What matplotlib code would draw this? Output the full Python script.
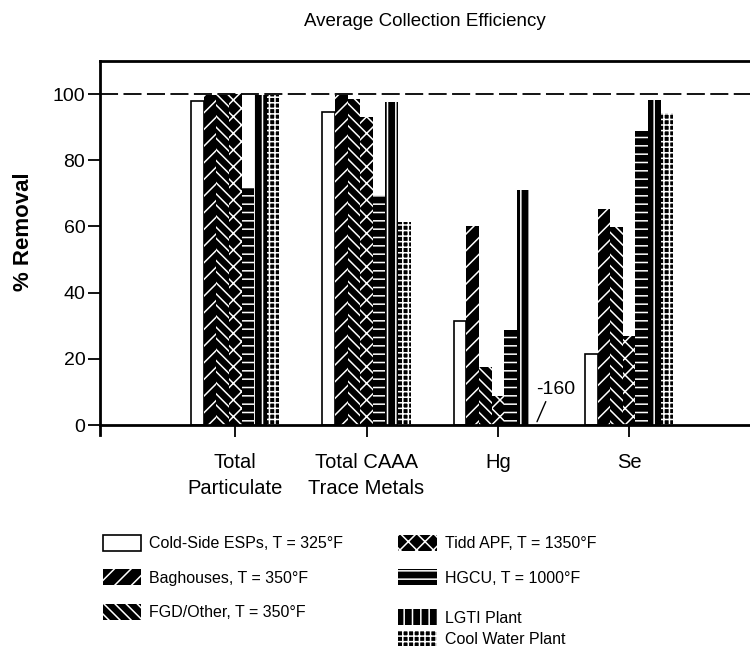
import matplotlib
matplotlib.use("Agg")
import matplotlib.pyplot as plt
import numpy as np

# === DATA ===
categories = ["Total\nParticulate", "Total CAAA\nTrace Metals", "Hg", "Se"]
series_names = [
    "Cold-Side ESPs, T = 325°F",
    "Baghouses, T = 350°F",
    "FGD/Other, T = 350°F",
    "Tidd APF, T = 1350°F",
    "HGCU, T = 1000°F",
    "LGTI Plant",
    "Cool Water Plant",
]
cold_side_esp = [98.0, 94.5, 31.5, 21.5]
baghouses = [99.8, 99.7, 60.0, 65.3]
fgd_other = [99.8, 98.5, 17.5, 59.7]
tidd_apf = [99.9, 93.0, 8.8, 27.0]
hgcu = [72.0, 69.6, 28.6, 89.0]
lgti_plant = [99.8, 97.5, 71.0, 98.3]
cool_water = [99.6, 61.4, -160.0, 94.3]
y_ticks = [0, 20, 40, 60, 80, 100]

all_series = [cold_side_esp, baghouses, fgd_other, tidd_apf, hgcu, lgti_plant, cool_water]
hatches = [None, "//", "\\\\\\", "xx", "--", "||", "+++"]

plt.rcParams["font.family"] = ["Liberation Sans", "DejaVu Sans"]
plt.rcParams["hatch.color"] = "white"
plt.rcParams["hatch.linewidth"] = 1.1

fig = plt.figure(figsize=(7.5, 6.61), dpi=100)
ax = fig.add_axes([0.1333, 0.342, 0.8667, 0.5657])

x = np.arange(len(categories))
width = 0.096

bars = []
for i, (vals, hatch) in enumerate(zip(all_series, hatches)):
    heights = np.maximum(np.array(vals), 0)
    pos = x + (i - 3) * width
    if hatch is None:
        b = ax.bar(pos, heights, width, color="white", edgecolor="black",
                   linewidth=1.2, label=series_names[i], zorder=2)
    else:
        b = ax.bar(pos, heights, width, color="black", hatch=hatch,
                   label=series_names[i], zorder=2)
    bars.append(b)

# reference line at 100 %
ax.axhline(100, color="black", lw=1.3, ls=(0, (10, 3)), zorder=1)

# off-scale Cool Water value for Hg
hg_cw_x = x[2] + 3 * width
ax.annotate("-160", xy=(hg_cw_x + 0.01, 1.0), xytext=(hg_cw_x + 0.15, 8.3),
            ha="center", va="bottom", fontsize=14,
            arrowprops=dict(arrowstyle="-", lw=1, color="black",
                            relpos=(0.3, 0), shrinkA=1, shrinkB=0))

ax.set_xlim(-1.03, 3.92)
ax.set_ylim(-3, 110)
ax.spines["right"].set_visible(False)
ax.spines["bottom"].set_position(("data", 0))
for s in ["top", "left", "bottom"]:
    ax.spines[s].set_linewidth(2)

ax.set_yticks(y_ticks)
ax.set_xticks(x)
ax.set_xticklabels(categories, fontsize=14.5, linespacing=1.45)
ax.tick_params(axis="y", direction="out", length=8.6, width=1.3, labelsize=14, pad=2)
ax.tick_params(axis="x", direction="out", length=8.6, width=1.3, pad=11.5)
ax.set_ylabel("% Removal", fontsize=16, fontweight="bold")
ax.yaxis.set_label_coords(-0.1015, 0.543)

fig.text(0.567, 0.968, "Average Collection Efficiency", ha="center", va="center", fontsize=13.5)

leg_kw = dict(frameon=False, borderpad=0, borderaxespad=0, handlelength=2.4,
              handleheight=1.15, handletextpad=0.5, fontsize=11.5, loc="upper left")
fig.legend(bars[0:3], series_names[0:3], bbox_to_anchor=(0.137, 0.191),
           labelspacing=1.15, **leg_kw)
fig.legend(bars[3:5], series_names[3:5], bbox_to_anchor=(0.531, 0.191),
           labelspacing=1.15, **leg_kw)
fig.legend(bars[5:7], series_names[5:7], bbox_to_anchor=(0.531, 0.078),
           labelspacing=0.3, **leg_kw)

fig.savefig("out.png", dpi=100)
